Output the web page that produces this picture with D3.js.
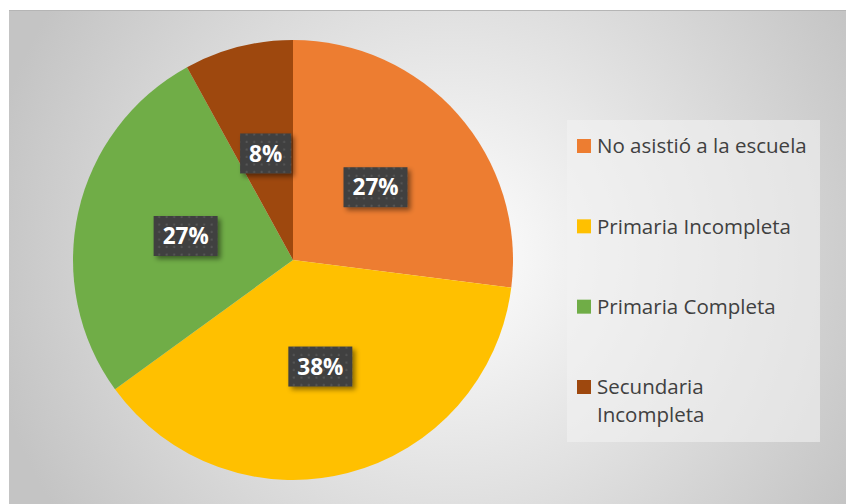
<!DOCTYPE html>
<html>
<head>
<meta charset="utf-8">
<script src="https://cdn.jsdelivr.net/npm/d3@7"></script>
<style>
  body { margin: 0; background: #fff; }
  svg { display: block; }
</style>
</head>
<body>
<svg width="846" height="504"></svg>
<script>
// données du graphique
const categories = ["No asistió a la escuela", "Primaria Incompleta", "Primaria Completa", "Secundaria Incompleta"];
const valores = [27, 38, 27, 8];
const colores = ["#ed7d31", "#ffc000", "#70ad47", "#9e480e"];
const legendLines = [["No asistió a la escuela"], ["Primaria Incompleta"], ["Primaria Completa"], ["Secundaria", "Incompleta"]];

const W = 846, H = 504;
const svg = d3.select("svg");
const defs = svg.append("defs");

/*----------- fond ----------- */
const grad = defs.append("radialGradient").attr("id", "bg")
  .attr("gradientUnits", "userSpaceOnUse")
  .attr("cx", 450).attr("cy", 255).attr("r", 470);
grad.append("stop").attr("offset", "0%").attr("stop-color", "#ffffff");
grad.append("stop").attr("offset", "100%").attr("stop-color", "#c4c4c4");

svg.append("rect").attr("x", 9).attr("y", 10).attr("width", W - 9).attr("height", H - 10)
  .attr("fill", "url(#bg)");
svg.append("line").attr("x1", 9).attr("x2", W).attr("y1", 10.5).attr("y2", 10.5)
  .attr("stroke", "#b5b5b5").attr("stroke-width", 1);

// motif des étiquettes
const pat = defs.append("pattern").attr("id", "dots")
  .attr("patternUnits", "userSpaceOnUse").attr("width", 7.5).attr("height", 7.5);
pat.append("rect").attr("width", 7.5).attr("height", 7.5).attr("fill", "#3f3f3f");
pat.append("rect").attr("x", 2.5).attr("y", 2.5).attr("width", 2).attr("height", 2).attr("fill", "#585858");

const shadow = defs.append("filter").attr("id", "shadow")
  .attr("x", "-30%").attr("y", "-30%").attr("width", "160%").attr("height", "160%");
shadow.append("feDropShadow").attr("dx", 3).attr("dy", 3).attr("stdDeviation", 2.5)
  .attr("flood-color", "#000").attr("flood-opacity", 0.45);

/*----------- camembert ----------- */
const cx = 293, cy = 260, r = 220;
const pie = d3.pie().sort(null).value((d) => d);
const arc = d3.arc().innerRadius(0).outerRadius(r);
const labelArc = d3.arc().innerRadius(r * 0.5).outerRadius(r * 0.5);
const arcs = pie(valores);

const g = svg.append("g").attr("transform", "translate(" + cx + "," + cy + ")");
g.selectAll("path").data(arcs).enter().append("path")
  .attr("d", arc)
  .attr("fill", (d, i) => colores[i]);

const labels = g.selectAll("g.lbl").data(arcs).enter().append("g")
  .attr("class", "lbl")
  .attr("transform", (d) => "translate(" + labelArc.centroid(d) + ")");

labels.each(function (d) {
  const el = d3.select(this);
  const txt = d.data + "%";
  const t = el.append("text")
    .attr("text-anchor", "middle")
    .attr("dy", "0.36em")
    .attr("fill", "#fff")
    .attr("font-family", "'Open Sans', sans-serif")
    .attr("font-weight", "bold")
    .attr("font-size", 22.5)
    .text(txt);
  const w = t.node().getComputedTextLength() + 18;
  el.insert("rect", "text")
    .attr("x", -w / 2).attr("y", -20).attr("width", w).attr("height", 40)
    .attr("fill", "url(#dots)")
    .attr("filter", "url(#shadow)");
});

/*----------- légende ----------- */
const lg = svg.append("g");
lg.append("rect").attr("x", 567).attr("y", 120).attr("width", 253).attr("height", 322)
  .attr("fill", "#f2f2f2").attr("fill-opacity", 0.6);

const ly = d3.scalePoint().domain(categories).range([146, 387]);
const items = lg.selectAll("g.item").data(categories).enter().append("g")
  .attr("class", "item")
  .attr("transform", (d) => "translate(577," + ly(d) + ")");
items.append("rect").attr("x", 0).attr("y", -7).attr("width", 14).attr("height", 14)
  .attr("fill", (d, i) => colores[i]);
items.append("text")
  .attr("x", 20)
  .attr("fill", "#404040")
  .attr("font-family", "'Open Sans', sans-serif")
  .attr("font-size", 20.5)
  .selectAll("tspan").data((d, i) => legendLines[i]).enter().append("tspan")
  .attr("x", 20)
  .attr("y", (d, j) => j * 28)
  .attr("dy", "0.35em")
  .text((d) => d);
</script>
</body>
</html>
